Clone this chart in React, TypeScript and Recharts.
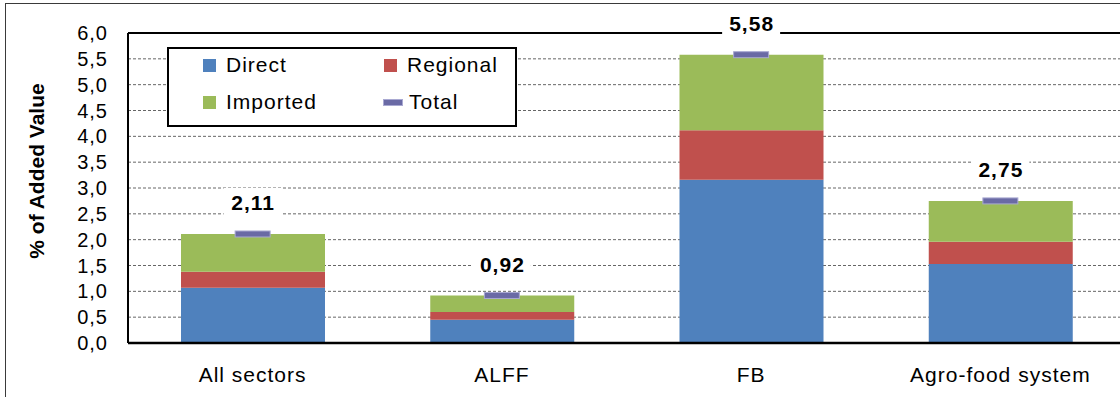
import {
  ComposedChart, Bar, Line, XAxis, YAxis, CartesianGrid, Legend, LabelList, ReferenceLine,
} from "recharts";

const FONT = "'Liberation Sans', Arial, sans-serif";

// valores
const categorias = ["All sectors", "ALFF", "FB", "Agro-food system"];
const direct = [1.07, 0.45, 3.16, 1.53];
const regional = [0.31, 0.15, 0.96, 0.43];
const imported = [0.73, 0.32, 1.46, 0.79];
const total = [2.11, 0.92, 5.58, 2.75];
const yTicks = [0, 0.5, 1, 1.5, 2, 2.5, 3, 3.5, 4, 4.5, 5, 5.5, 6];
const ordemLegenda = ["Direct", "Regional", "Imported", "Total"];

const CORES: Record<string, string> = {
  Direct: "#4F81BD",
  Regional: "#C0504D",
  Imported: "#9BBB59",
  Total: "#6A6AA5",
};

const dados = categorias.map((name, i) => ({
  name,
  direct: direct[i],
  regional: regional[i],
  imported: imported[i],
  total: total[i],
}));

const fmt1 = (v: number) => v.toFixed(1).replace(".", ",");
const fmt2 = (v: number) => v.toFixed(2).replace(".", ",");

// eslint-disable-next-line @typescript-eslint/no-explicit-any
const TotalMarker = (props: any) => {
  const { cx, cy, index } = props;
  if (cx == null || cy == null) return null;
  return (
    <rect key={index} x={cx - 17.5} y={cy - 3} width={35} height={6}
      fill={CORES.Total} stroke="#A9A9D2" strokeWidth={1} />
  );
};

// eslint-disable-next-line @typescript-eslint/no-explicit-any
const TotalLabel = (props: any) => {
  const { x, y, value } = props;
  if (x == null || y == null) return null;
  const ly = y - 31;
  return (
    <g>
      <rect x={x - 29} y={ly - 15} width={58} height={30} fill="#fff" />
      <text x={x + 0.5} y={ly} textAnchor="middle" dominantBaseline="central"
        fontFamily={FONT} fontWeight={700} fontSize={21} letterSpacing={1} fill="#000">
        {fmt2(Number(value))}
      </text>
    </g>
  );
};

const AxisTitle = () => (
  <text x={36} y={171} transform="rotate(-90, 36, 171)" textAnchor="middle"
    dominantBaseline="central" fontFamily={FONT} fontWeight={700} fontSize={21} fill="#000">
    % of Added Value
  </text>
);

// eslint-disable-next-line @typescript-eslint/no-explicit-any
const LegendBox = ({ payload }: any) => {
  const nomes: string[] = (payload ?? []).map((p: { value: string }) => p.value);
  const itens = ordemLegenda.filter((n) => nomes.includes(n));
  return (
    <div style={{
      position: "relative", boxSizing: "border-box", width: 350, height: 80,
      border: "2px solid #000", background: "#fff", fontFamily: FONT,
    }}>
      {itens.map((nome, i) => {
        const col = i % 2;
        const row = Math.floor(i / 2);
        const isTotal = nome === "Total";
        return (
          <div key={nome} style={{
            position: "absolute", left: isTotal ? 214 : 34 + col * 181, top: 16 + row * 37 - 13,
            height: 26, display: "flex", alignItems: "center",
          }}>
            <span style={{
              display: "inline-block", width: isTotal ? 18 : 13, height: isTotal ? 5 : 13,
              background: CORES[nome], marginRight: isTotal ? 6 : 10,
              border: isTotal ? "0.5px solid #A9A9D2" : "none",
            }} />
            <span style={{ fontSize: 21, letterSpacing: 1, color: "#000" }}>{nome}</span>
          </div>
        );
      })}
    </div>
  );
};

export default function App() {
  return (
    <div style={{
      position: "absolute", left: 0, top: 0, width: 1120, height: 397,
      overflow: "hidden", background: "#fff",
    }}>
      <div style={{
        position: "absolute", left: 5, top: 3, width: 1140, height: 420,
        border: "1.5px solid #3a3a3a", boxSizing: "border-box",
      }} />
      <div style={{ position: "absolute", left: 0, top: 0 }}>
        <ComposedChart width={1135} height={397} data={dados}
          margin={{ top: 33, right: 10, bottom: 24, left: 28 }}>
          <CartesianGrid vertical={false} strokeDasharray="3 2" stroke="#666" />
          <XAxis dataKey="name" tickLine={false} interval={0} tickMargin={18} height={30}
            axisLine={{ stroke: "#000", strokeWidth: 2.5 }}
            tick={{ fill: "#000", fontSize: 21, fontFamily: FONT, letterSpacing: 1 }} />
          <YAxis domain={[0, 6]} ticks={yTicks} interval={0} width={100} tickLine={false}
            tickMargin={14} tickFormatter={fmt1}
            axisLine={{ stroke: "#000", strokeWidth: 2 }}
            tick={{ fill: "#000", fontSize: 20, fontFamily: FONT, letterSpacing: 1 }}
            label={{ content: <AxisTitle /> }} />
          <ReferenceLine y={6} stroke="#000" strokeWidth={2} />
          <Bar dataKey="direct" name="Direct" stackId="a" fill={CORES.Direct} barSize={144} isAnimationActive={false} />
          <Bar dataKey="regional" name="Regional" stackId="a" fill={CORES.Regional} barSize={144} isAnimationActive={false} />
          <Bar dataKey="imported" name="Imported" stackId="a" fill={CORES.Imported} barSize={144} isAnimationActive={false} />
          <Line dataKey="total" name="Total" stroke="none" dot={TotalMarker} activeDot={false}
            isAnimationActive={false}>
            <LabelList dataKey="total" content={TotalLabel} />
          </Line>
          <Legend layout="horizontal" verticalAlign="middle" align="center"
            content={<LegendBox />}
            wrapperStyle={{ left: 167, top: 47, width: 350, height: 80 }} />
        </ComposedChart>
      </div>
    </div>
  );
}
